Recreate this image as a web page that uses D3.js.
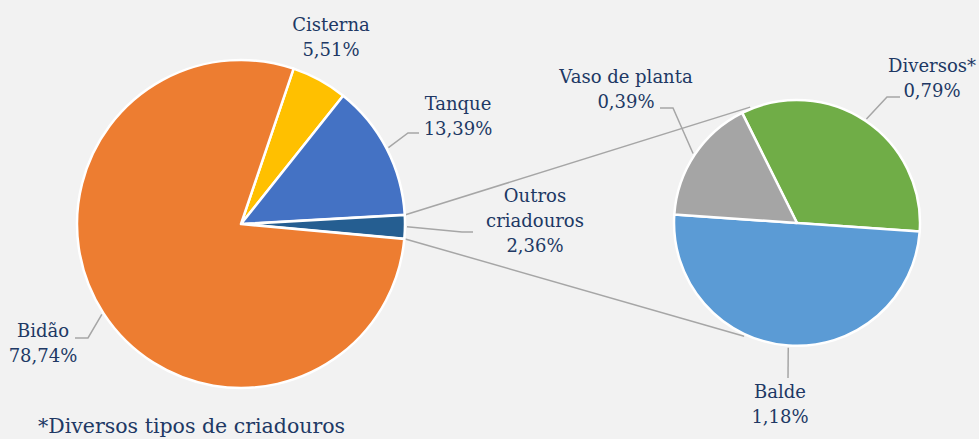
<!DOCTYPE html>
<html>
<head>
<meta charset="utf-8">
<script src="https://cdn.jsdelivr.net/npm/d3@7"></script>
<style>
  body { margin: 0; background: #f2f2f2; }
  svg text { font-family: "DejaVu Serif", Georgia, serif; font-size: 18px; fill: #203864; }
</style>
</head>
<body>
<div id="container"></div>
<script>
/* DATA */
const mainCats = ["Cisterna", "Tanque", "Outros criadouros", "Bidão"];
const mainVals = [5.51, 13.39, 2.36, 78.74];
const mainColors = ["#ffc000", "#4472c4", "#255e91", "#ed7d31"];

const subCats = ["Diversos*", "Balde", "Vaso de planta"];
const subVals = [0.79, 1.18, 0.39];
const subColors = ["#70ad47", "#5b9bd5", "#a5a5a5"];

const footnote = "*Diversos tipos de criadouros";

/* LAYOUT */
const width = 979, height = 439;
const main = { cx: 241, cy: 224, r: 164, start: 18.7 };
const sub = { cx: 797, cy: 223, r: 123, start: -26.5 };
const splitIndex = 2;   // "Outros criadouros" goes to the second pie
const explode = 4;

// label placement: text centre, first baseline, leader elbow and end
const mainLabels = [
  { lines: ["Cisterna"], tx: 331, ty: 31, leader: null },
  { lines: ["Tanque"], tx: 458, ty: 110, leader: [[408, 133], [419, 133]] },
  { lines: ["Outros", "criadouros"], tx: 535, ty: 202, leader: [[462, 232], [473, 232]] },
  { lines: ["Bidão"], tx: 43, ty: 337, leader: [[88, 338], [75, 338]] }
];
const subLabels = [
  { lines: ["Diversos*"], tx: 932, ty: 72, leader: [[887, 97], [900, 97]] },
  { lines: ["Balde"], tx: 780, ty: 398, leader: [[788, 378], [788, 378]] },
  { lines: ["Vaso de planta"], tx: 626, ty: 83, leader: [[673, 108], [660, 108]] }
];
const lineH = 25;

const fmt = v => d3.format(".2f")(v).replace(".", ",") + "%";
const rad = deg => deg * Math.PI / 180;

const svg = d3.select("#container").append("svg")
  .attr("width", width)
  .attr("height", height);

svg.append("rect").attr("width", width).attr("height", height).attr("fill", "#f2f2f2");

/* PIE LAYOUTS */
const mainPie = d3.pie().sort(null).value(d => d)
  .startAngle(rad(main.start)).endAngle(rad(main.start + 360));
const subPie = d3.pie().sort(null).value(d => d)
  .startAngle(rad(sub.start)).endAngle(rad(sub.start + 360));

const mainArcs = mainPie(mainVals);
const subArcs = subPie(subVals);

const mainArc = d3.arc().innerRadius(0).outerRadius(main.r);
const splitArc = d3.arc().innerRadius(0).outerRadius(main.r - explode);
const subArc = d3.arc().innerRadius(0).outerRadius(sub.r);

const pt = (cx, cy, r, a) => [cx + r * Math.sin(a), cy - r * Math.cos(a)];

/* CONNECTOR LINES between the split slice and the second pie */
const split = mainArcs[splitIndex];
const midA = (split.startAngle + split.endAngle) / 2;
const ox = explode * Math.sin(midA), oy = -explode * Math.cos(midA);
const connectors = [
  [pt(main.cx + ox, main.cy + oy, main.r - explode, split.startAngle), pt(sub.cx, sub.cy, sub.r + 2, rad(338))],
  [pt(main.cx + ox, main.cy + oy, main.r - explode, split.endAngle), pt(sub.cx, sub.cy, sub.r + 2, rad(205))]
];
svg.append("g").selectAll("line")
  .data(connectors)
  .join("line")
  .attr("x1", d => d[0][0]).attr("y1", d => d[0][1])
  .attr("x2", d => d[1][0]).attr("y2", d => d[1][1])
  .attr("stroke", "#a6a6a6")
  .attr("stroke-width", 1.5);

/* MAIN PIE */
svg.append("g")
  .attr("transform", "translate(" + main.cx + "," + main.cy + ")")
  .selectAll("path")
  .data(mainArcs)
  .join("path")
  .attr("d", (d, i) => i === splitIndex ? splitArc(d) : mainArc(d))
  .attr("transform", (d, i) => i === splitIndex ? "translate(" + ox + "," + oy + ")" : null)
  .attr("fill", (d, i) => mainColors[i])
  .attr("stroke", "#ffffff")
  .attr("stroke-width", 2.5)
  .attr("stroke-linejoin", "round");

/* SECOND PIE */
svg.append("g")
  .attr("transform", "translate(" + sub.cx + "," + sub.cy + ")")
  .selectAll("path")
  .data(subArcs)
  .join("path")
  .attr("d", subArc)
  .attr("fill", (d, i) => subColors[i])
  .attr("stroke", "#ffffff")
  .attr("stroke-width", 2.5)
  .attr("stroke-linejoin", "round");

/* LABELS */
function drawLabels(arcs, labels, vals, c) {
  arcs.forEach((d, i) => {
    const lb = labels[i];
    const a = (d.startAngle + d.endAngle) / 2;
    if (lb.leader) {
      const p0 = pt(c.cx, c.cy, c.r + 2, a);
      svg.append("polyline")
        .attr("points", [p0].concat(lb.leader).map(p => p.join(",")).join(" "))
        .attr("fill", "none")
        .attr("stroke", "#a6a6a6")
        .attr("stroke-width", 1.5);
    }
    const t = svg.append("text")
      .attr("text-anchor", "middle");
    lb.lines.concat([fmt(vals[i])]).forEach((s, k) => {
      t.append("tspan")
        .attr("x", lb.tx)
        .attr("y", lb.ty + k * lineH)
        .text(s);
    });
  });
}
drawLabels(mainArcs, mainLabels, mainVals, main);
drawLabels(subArcs, subLabels, subVals, sub);

/* FOOTNOTE */
svg.append("text")
  .attr("x", 38)
  .attr("y", 433)
  .style("font-size", "20.5px")
  .text(footnote);
</script>
</body>
</html>
